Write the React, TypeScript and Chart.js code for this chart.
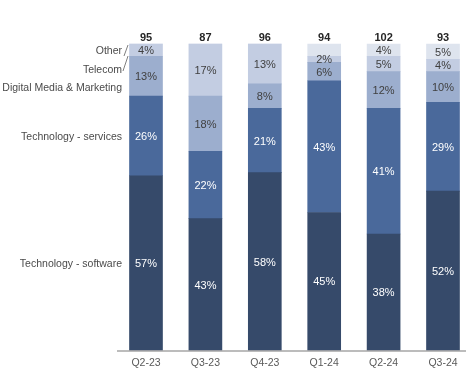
import React, { useEffect, useRef } from "react";
import { Chart, registerables } from "chart.js";

Chart.register(...registerables);

const categories = ["Q2-23", "Q3-23", "Q4-23", "Q1-24", "Q2-24", "Q3-24"];
const totals = [95, 87, 96, 94, 102, 93];
const software = [57, 43, 58, 45, 38, 52];
const services = [26, 22, 21, 43, 41, 29];
const digital = [13, 18, 8, 6, 12, 10];
const telecom = [4, 17, 13, 2, 5, 4];
const other = [0, 0, 0, 4, 4, 5];
const otherLabelShown = [true, true, true, false, true, true];
const seriesNames = ["Technology - software", "Technology - services", "Digital Media & Marketing", "Telecom", "Other"];

const colors = ["#364a6a", "#4a699b", "#9caece", "#c3cde2", "#dee4ee"];
const labelColors = ["#ffffff", "#ffffff", "#404040", "#404040", "#404040"];
const FONT = "'Liberation Sans', Arial, sans-serif";

const overlayPlugin = {
  id: "overlay",
  afterDatasetsDraw(chart: any) {
    const ctx = chart.ctx;
    const area = chart.chartArea;
    ctx.save();
    // baseline
    ctx.strokeStyle = "#a6a6a6";
    ctx.lineWidth = 1.5;
    ctx.beginPath();
    ctx.moveTo(117, area.bottom + 0.5);
    ctx.lineTo(466, area.bottom + 0.5);
    ctx.stroke();

    // segment labels
    ctx.font = `11px ${FONT}`;
    ctx.textAlign = "center";
    ctx.textBaseline = "middle";
    chart.data.datasets.forEach((ds: any, di: number) => {
      const meta = chart.getDatasetMeta(di);
      meta.data.forEach((bar: any, i: number) => {
        const v = ds.data[i];
        if (!v) return;
        if (di === 4 && !otherLabelShown[i]) return;
        const { x, y, base } = bar.getProps(["x", "y", "base"], true);
        ctx.fillStyle = labelColors[di];
        ctx.fillText(v + "%", x, (y + base) / 2 + 1);
      });
    });

    // totals
    ctx.font = `bold 11px ${FONT}`;
    ctx.fillStyle = "#262626";
    const topMeta = chart.getDatasetMeta(4);
    topMeta.data.forEach((bar: any, i: number) => {
      ctx.fillText(String(totals[i]), bar.x, area.top - 6);
    });

    // left series labels (aligned with first bar)
    const segs = [0, 1, 2, 3, 4].map((d) => chart.getDatasetMeta(d).data[0].getProps(["y", "base"], true));
    ctx.font = `10.5px ${FONT}`;
    ctx.fillStyle = "#4a4a4a";
    ctx.textAlign = "right";
    const lx = 122;
    ctx.fillText(seriesNames[0], lx, (segs[0].y + segs[0].base) / 2 + 1);
    ctx.fillText(seriesNames[1], lx, (segs[1].y + segs[1].base) / 2 + 1);
    ctx.fillText(seriesNames[2], lx, segs[2].base - 8);
    ctx.fillText(seriesNames[3], lx, segs[3].base + 14);
    ctx.fillText(seriesNames[4], lx, area.top + 7);

    // leader lines
    ctx.strokeStyle = "#7f7f7f";
    ctx.lineWidth = 1;
    ctx.beginPath();
    ctx.moveTo(124, area.top + 12);
    ctx.lineTo(128, area.top + 1);
    ctx.moveTo(123, area.top + 27);
    ctx.lineTo(128, area.top + 12);
    ctx.stroke();
    ctx.restore();
  },
};

export default function App() {
  const ref = useRef<HTMLCanvasElement | null>(null);
  useEffect(() => {
    document.body.style.margin = "0";
    const series = [software, services, digital, telecom, other];
    const chart = new Chart(ref.current!, {
      type: "bar",
      data: {
        labels: categories,
        datasets: series.map((d, i) => ({
          label: seriesNames[i],
          data: d,
          backgroundColor: colors[i],
          borderWidth: 0,
          barThickness: 33,
          clip: false as any,
        })),
      },
      options: {
        animation: false,
        responsive: false,
        layout: { padding: { left: 146, right: 23, top: 44, bottom: 14 } },
        plugins: { legend: { display: false }, tooltip: { enabled: false } },
        scales: {
          x: {
            stacked: true,
            offset: false,
            grid: { display: false, drawTicks: false },
            border: { display: false },
            ticks: { font: { family: FONT, size: 10.5 }, color: "#595959", padding: 6 },
          },
          y: { stacked: true, display: false, min: 0, max: 100 },
        },
      },
      plugins: [overlayPlugin],
    });
    return () => chart.destroy();
  }, []);
  return <canvas ref={ref} width={466} height={389} style={{ display: "block" }} />;
}
